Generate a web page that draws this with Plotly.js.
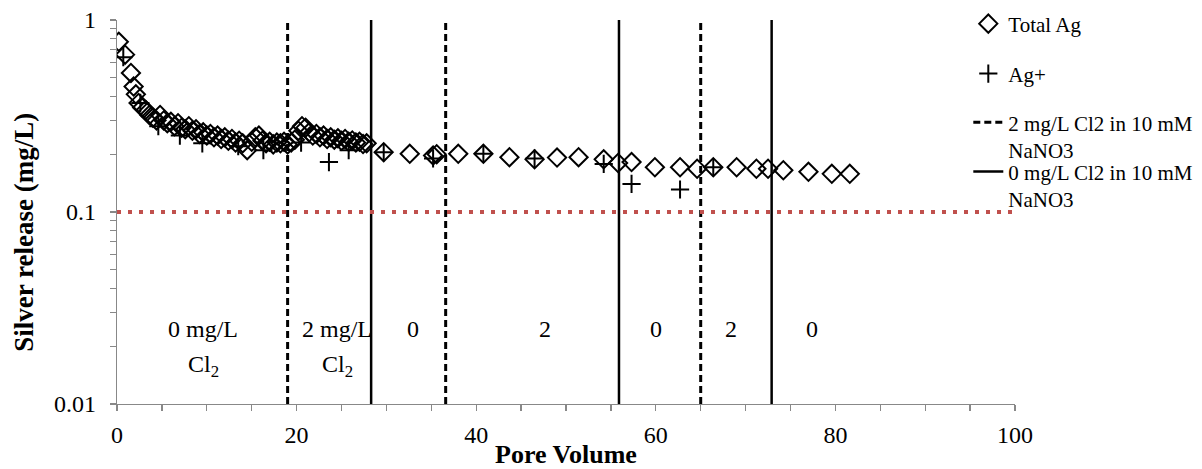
<!DOCTYPE html>
<html>
<head>
<meta charset="utf-8">
<script src="https://cdn.plot.ly/plotly-3.0.1.min.js"></script>
<style>
  html, body { margin: 0; padding: 0; background: #fff; }
  #chart { width: 1202px; height: 469px; }
</style>
</head>
<body>
<div id="chart"></div>
<script>
// Total Ag (mg/L) vs pore volume
const totalPV = [0.2, 0.9, 1.55, 1.85, 2.1, 2.4, 2.8, 3.2, 3.6, 4.0, 4.4, 4.8, 5.2, 5.6, 6.0, 6.4, 6.8, 7.2, 7.6, 8.0,
  8.4, 8.8, 9.2, 9.6, 10.0, 10.4, 10.8, 11.2, 11.6, 12.0, 12.4, 12.8, 13.2, 13.6, 14.0, 14.5, 15.0, 15.4, 15.8, 16.2,
  16.6, 17.0, 17.4, 17.8, 18.2, 18.6, 19.0, 19.4, 19.8, 20.2, 20.6, 21.0, 21.4, 21.8, 22.2, 22.6, 23.0, 23.4, 23.8, 24.2,
  24.6, 25.0, 25.4, 25.8, 26.2, 26.6, 27.0, 27.4, 27.8, 29.7, 32.6, 35.2, 35.6, 38.0, 40.8, 43.7, 46.5, 49.0, 51.4, 54.2,
  55.8, 57.3, 59.9, 62.7, 64.6, 66.4, 69.0, 71.2, 72.5, 74.2, 77.0, 79.6, 81.6];
const totalAg = [0.77, 0.66, 0.53, 0.45, 0.41, 0.37, 0.35, 0.34, 0.32, 0.31, 0.30, 0.32, 0.30, 0.29, 0.295, 0.28, 0.29, 0.275, 0.27, 0.28,
  0.265, 0.27, 0.255, 0.26, 0.25, 0.255, 0.245, 0.25, 0.24, 0.245, 0.235, 0.24, 0.23, 0.235, 0.228, 0.21, 0.232, 0.245, 0.25, 0.235,
  0.228, 0.232, 0.225, 0.23, 0.228, 0.232, 0.225, 0.23, 0.238, 0.265, 0.28, 0.275, 0.26, 0.25, 0.255, 0.245, 0.25, 0.24, 0.245, 0.238,
  0.242, 0.235, 0.24, 0.232, 0.236, 0.23, 0.232, 0.226, 0.228, 0.205, 0.201, 0.197, 0.2, 0.201, 0.201, 0.193, 0.188, 0.192, 0.193, 0.188,
  0.18, 0.182, 0.171, 0.171, 0.168, 0.171, 0.171, 0.168, 0.168, 0.165, 0.162, 0.158, 0.158];

// Ag+ (mg/L) vs pore volume
const ionPV = [0.7, 2.6, 4.6, 7.0, 9.5, 13.5, 16.3, 20.5, 23.6, 25.8, 29.7, 35.2, 40.8, 46.5, 54.2, 57.3, 62.7, 66.4];
const ionAg = [0.64, 0.37, 0.28, 0.25, 0.228, 0.22, 0.21, 0.23, 0.182, 0.21, 0.205, 0.19, 0.201, 0.19, 0.178, 0.14, 0.131, 0.171];

// Condition switches (pore volume)
const dashedPV = [19.0, 36.6, 65.0];   // 2 mg/L Cl2
const solidPV = [28.3, 55.9, 72.9];    // 0 mg/L Cl2
const yMin = 0.01, yMax = 1;
const limitValue = 0.1;
const xMin = 0, xMax = 100;

// Region labels
const regionPV = [9.6, 24.5, 33.0, 47.7, 60.0, 68.4, 77.4];
const regionLine1 = ['0 mg/L', '2 mg/L', '0', '2', '0', '2', '0'];
const regionLine2 = ['Cl<sub>2</sub>', 'Cl<sub>2</sub>', '', '', '', '', ''];

const FONT = 'Liberation Serif, Times New Roman, serif';

function vlines(arr) {
  const xs = [], ys = [];
  arr.forEach((v, i) => {
    if (i > 0) { xs.push(null); ys.push(null); }
    xs.push(v, v); ys.push(yMin, yMax);
  });
  return { xs, ys };
}
const dl = vlines(dashedPV), sl = vlines(solidPV);

const traces = [
  { x: dl.xs, y: dl.ys, mode: 'lines', name: '2 mg/L Cl2 in 10 mM<br>NaNO3',
    line: { color: '#000', width: 3, dash: '7px,4px' }, legend: 'legend3', hoverinfo: 'skip' },
  { x: sl.xs, y: sl.ys, mode: 'lines', name: '0 mg/L Cl2 in 10 mM<br>NaNO3',
    line: { color: '#000', width: 2.5 }, legend: 'legend4', hoverinfo: 'skip' },
  { x: [xMin, xMax], y: [limitValue, limitValue], mode: 'lines', showlegend: false,
    line: { color: '#C0504D', width: 4, dash: '4px,7px' }, hoverinfo: 'skip' },
  { x: totalPV, y: totalAg, mode: 'markers', name: 'Total Ag', legend: 'legend',
    marker: { symbol: 'diamond-open', size: 14, color: '#000', line: { width: 2, color: '#000' } } },
  { x: ionPV, y: ionAg, mode: 'markers', name: 'Ag+', legend: 'legend2',
    marker: { symbol: 'cross-thin-open', size: 13, color: '#000', line: { width: 2, color: '#000' } } }
];

const annotations = [];
regionPV.forEach((pv, i) => {
  annotations.push({ x: pv, y: -1.61, xref: 'x', yref: 'y', text: regionLine1[i], showarrow: false,
    font: { family: FONT, size: 24, color: '#000' }, xanchor: 'center', yanchor: 'middle' });
  if (regionLine2[i]) {
    annotations.push({ x: pv, y: -1.80, xref: 'x', yref: 'y', text: regionLine2[i], showarrow: false,
      font: { family: FONT, size: 24, color: '#000' }, xanchor: 'center', yanchor: 'middle' });
  }
});

const legendBase = { xanchor: 'left', yanchor: 'top', bgcolor: 'rgba(0,0,0,0)', borderwidth: 0,
  font: { family: FONT, size: 21, color: '#000' }, valign: 'top', itemwidth: 30 };

const layout = {
  width: 1202, height: 469,
  margin: { l: 117, r: 187, t: 20, b: 65, autoexpand: false },
  paper_bgcolor: '#fff', plot_bgcolor: '#fff',
  font: { family: FONT, color: '#000', size: 24 },
  showlegend: true,
  legend: Object.assign({}, legendBase, { x: 0.948, y: 1.043 }),
  legend2: Object.assign({}, legendBase, { x: 0.948, y: 0.913 }),
  legend3: Object.assign({}, legendBase, { x: 0.948, y: 0.786 }),
  legend4: Object.assign({}, legendBase, { x: 0.948, y: 0.658 }),
  xaxis: {
    range: [xMin, xMax], tickmode: 'linear', tick0: 0, dtick: 20,
    ticks: 'outside', ticklen: 6, tickwidth: 1.3, tickcolor: '#888',
    minor: { dtick: 5, ticks: 'outside', ticklen: 6, tickwidth: 1.3, tickcolor: '#888' },
    showline: true, linecolor: '#888', linewidth: 1.3, showgrid: false, zeroline: false,
    tickfont: { family: FONT, size: 24, color: '#000' }, ticklabelstandoff: 3,
    title: { text: '<b>Pore Volume</b>', font: { family: FONT, size: 26, color: '#000' }, standoff: 0 }
  },
  yaxis: {
    type: 'log', range: [-2, 0],
    tickvals: [0.01, 0.1, 1], ticktext: ['0.01', '0.1', '1'],
    ticks: 'outside', ticklen: 6, tickwidth: 1.3, tickcolor: '#888',
    minor: { tickvals: [0.02, 0.03, 0.04, 0.05, 0.06, 0.07, 0.08, 0.09, 0.2, 0.3, 0.4, 0.5, 0.6, 0.7, 0.8, 0.9],
             ticks: 'outside', ticklen: 6, tickwidth: 1.3, tickcolor: '#888' },
    showline: true, linecolor: '#888', linewidth: 1.3, showgrid: false, zeroline: false,
    tickfont: { family: FONT, size: 24, color: '#000' }, ticklabelstandoff: 9,
    title: { text: '<b>Silver release (mg/L)</b>&nbsp;&nbsp;&nbsp;&nbsp;&nbsp;&nbsp;', font: { family: FONT, size: 27, color: '#000' }, standoff: 12 }
  },
  annotations: annotations
};

Plotly.newPlot('chart', traces, layout, { staticPlot: true, displayModeBar: false });
</script>
</body>
</html>
